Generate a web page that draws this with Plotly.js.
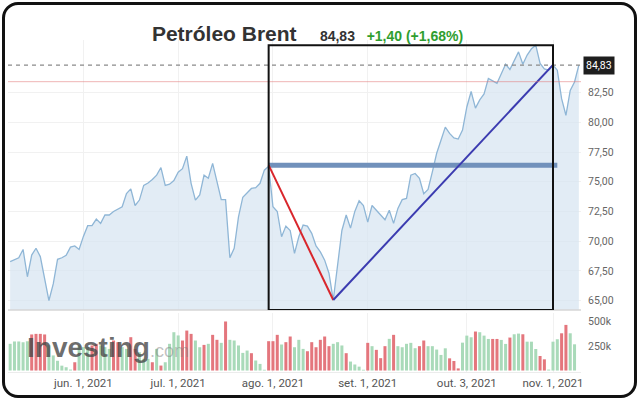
<!DOCTYPE html>
<html>
<head>
<meta charset="utf-8">
<script src="https://cdn.plot.ly/plotly-3.0.1.min.js"></script>
<style>
  html, body { margin: 0; padding: 0; background: #fff; }
  #wrap { position: relative; width: 640px; height: 407px; overflow: hidden; }
  #chart { position: absolute; left: 0; top: 0; width: 640px; height: 407px; }
  #frame {
    position: absolute; left: 2px; top: 2px; width: 635px; height: 396px;
    box-sizing: border-box; border: 3px solid #111; border-radius: 16px;
    pointer-events: none;
  }
</style>
</head>
<body>
<div id="wrap">
  <div id="chart"></div>
  <div id="frame"></div>
</div>
<script>
// Brent daily closes, one per trading day from 2021-05-07
const closes = [
    68.27, 68.47, 68.6, 69.3, 67.0, 68.83, 69.4, 68.7, 66.7, 65.0,
    66.4, 68.47, 68.6, 68.8, 69.5, 69.6, 69.3, 70.4, 71.3, 71.3,
    71.86, 71.5, 72.2, 72.2, 72.5, 72.7, 72.9, 74.0, 74.4, 73.0,
    73.46, 74.7, 74.9, 75.2, 75.56, 76.2, 74.7, 74.8, 75.1, 75.8,
    76.1, 77.16, 74.87, 73.46, 73.9, 75.56, 75.3, 76.55, 75.0, 73.5,
    73.5, 68.6, 69.4, 72.05, 73.7, 74.07, 74.44, 74.5, 74.87, 75.98,
    76.3, 72.9, 72.5, 70.37, 71.27, 70.9, 68.97, 70.37, 71.36, 71.27,
    70.66, 69.6, 69.1, 68.4, 67.3, 65.04, 67.85, 70.9, 72.2, 71.1,
    72.5, 73.4, 73.0, 71.6, 73.0, 72.6, 72.2, 71.8, 72.6, 71.5,
    72.76, 73.5, 73.6, 75.56, 75.7, 75.3, 74.0, 74.36, 75.84, 77.4,
    78.5, 79.6, 79.07, 78.7, 78.6, 79.35, 81.3, 82.6, 81.2, 81.9,
    82.4, 83.7, 83.5, 83.3, 84.1, 84.9, 84.46, 85.2, 85.94, 84.9,
    85.67, 86.2, 86.5, 84.97, 84.5, 84.4, 84.83, 84.4, 82.0, 80.6,
    82.7, 83.4, 84.83
];

// volume in thousands, and bar colour: G = up day, R = down day
const volumeK = [
    274, 298, 298, 290, 300, 370, 376, 376, 370, 260,
    155, 100, 50, 34, 10, 85, 257, 240, 240, 257,
    274, 257, 240, 222, 308, 290, 240, 222, 342, 222,
    188, 120, 120, 85, 222, 51, 85, 274, 393, 360,
    308, 410, 376, 308, 239, 263, 274, 366, 315, 284,
    503, 315, 308, 257, 181, 205, 178, 103, 68, 8,
    301, 301, 366, 267, 291, 349, 239, 315, 222, 198,
    291, 239, 315, 349, 250, 274, 291, 257, 178, 92,
    62, 40, 8, 284, 250, 212, 127, 250, 325, 366,
    250, 239, 274, 284, 229, 250, 308, 250, 250, 215,
    160, 228, 125, 98, 22, 286, 358, 341, 400, 393,
    358, 324, 324, 324, 314, 273, 338, 372, 379, 372,
    296, 296, 221, 149, 115, 10, 296, 321, 382, 468,
    382, 269, null
];
const volumeDir =
    'GGGGGRRRRG' + 'GGGGGRGGGR' + 'RGGGRRGGRR' + 'GGGRGRGGGG' + 'RRRGGRGRRG' +
    'RGGGGGRGGG' + 'RRRGRRGGGR' + 'RRRRRGGGRG' + 'GGGRGRRRGR' + 'GGGGGRRGGG' +
    'GGRRRGGGRG' + 'GGRRGGRGGR' + 'GGGRRGGGRR' + 'GGG';

const lastPrice = 84.83;
const prevClose = 83.43;
const priceRange = [64.2, 86.94];
const priceTicks = [65, 67.5, 70, 72.5, 75, 77.5, 80, 82.5];

const tickDates = ['2021-06-01', '2021-07-01', '2021-08-02', '2021-09-01', '2021-10-04', '2021-11-01'];
const tickLabels = ['jun. 1, 2021', 'jul. 1, 2021', 'ago. 1, 2021', 'set. 1, 2021', 'out. 3, 2021', 'nov. 1, 2021'];

// hand drawn markup on the chart
const boxDates = ['2021-07-30', '2021-11-01'];
const boxTop = 86.5;
const levelLine = { x: ['2021-07-30', '2021-11-02'], y: [76.4, 76.4] };
const fallLine = { x: ['2021-07-30', '2021-08-20'], y: [76.4, 65.04] };
const riseLine = { x: ['2021-08-20', '2021-11-01'], y: [65.04, 84.85] };

function tradingDays(from, to) {
    const out = [];
    const d = new Date(from + 'T00:00:00Z');
    const end = new Date(to + 'T00:00:00Z');
    while (d <= end) {
        const wd = d.getUTCDay();
        if (wd !== 0 && wd !== 6) out.push(d.toISOString().slice(0, 10));
        d.setUTCDate(d.getUTCDate() + 1);
    }
    return out;
}

const dates = tradingDays('2021-05-07', '2021-11-09');
const arial = '"Liberation Sans", Arial, sans-serif';

const traces = [
    {
        x: dates,
        y: closes,
        type: 'scatter',
        mode: 'lines',
        fill: 'tozeroy',
        fillcolor: 'rgba(214,228,241,0.7)',
        line: { color: '#8fb6d6', width: 1.3 },
        hoverinfo: 'skip'
    },
    {
        x: dates,
        y: volumeK.map(v => v === null ? null : v * 1000),
        type: 'bar',
        yaxis: 'y2',
        marker: {
            color: volumeK.map((v, i) => volumeDir[i] === 'R' ? '#e4767d' : '#a9dab9')
        },
        hoverinfo: 'skip'
    },
    {
        x: levelLine.x,
        y: levelLine.y,
        type: 'scatter',
        mode: 'lines',
        line: { color: '#7191bb', width: 5 },
        hoverinfo: 'skip'
    },
    {
        x: fallLine.x,
        y: fallLine.y,
        type: 'scatter',
        mode: 'lines',
        line: { color: '#d9262c', width: 2 },
        hoverinfo: 'skip'
    },
    {
        x: riseLine.x,
        y: riseLine.y,
        type: 'scatter',
        mode: 'lines',
        line: { color: '#3b3bb0', width: 2 },
        hoverinfo: 'skip'
    }
];

const layout = {
    width: 640,
    height: 407,
    margin: { l: 8, r: 59, t: 40, b: 35 },
    paper_bgcolor: '#fff',
    plot_bgcolor: '#fff',
    separators: ',.',
    showlegend: false,
    bargap: 0.3,
    font: { family: 'Roboto, Arial, sans-serif', size: 11, color: '#555' },
    title: {
        text: '<b>Petróleo Brent&nbsp;&nbsp;&nbsp;&nbsp;<span style="font-size:14px">84,83</span>' +
              '<span style="font-size:14px">&nbsp;&nbsp;&nbsp;</span>' +
              '<span style="font-size:14px;fill:#2f9e2f">+1,40 (+1,68%)</span></b>',
        x: 0.4805,
        xref: 'container',
        xanchor: 'center',
        y: 0.918,
        yref: 'container',
        yanchor: 'middle',
        font: { family: arial, size: 21, color: '#333' }
    },
    xaxis: {
        type: 'category',
        range: [-0.5, dates.length - 0.5],
        anchor: 'y2',
        tickmode: 'array',
        tickvals: tickDates,
        ticktext: tickLabels,
        ticks: '',
        showgrid: true,
        gridcolor: '#f1f1f1',
        zeroline: false,
        showline: true,
        linecolor: '#ececec',
        tickfont: { size: 11.5, color: '#555' },
        fixedrange: true
    },
    yaxis: {
        domain: [0.1867, 1],
        range: priceRange,
        side: 'right',
        tickmode: 'array',
        tickvals: priceTicks,
        tickformat: '.2f',
        ticks: '',
        ticklabelstandoff: 6,
        showgrid: true,
        gridcolor: '#f1f1f1',
        zeroline: false,
        tickfont: { size: 10.5, color: '#666' },
        fixedrange: true
    },
    yaxis2: {
        domain: [0, 0.1777],
        range: [-15000, 590000],
        side: 'right',
        tickmode: 'array',
        tickvals: [250000, 500000],
        ticktext: ['250k', '500k'],
        ticks: '',
        ticklabelstandoff: 6,
        showgrid: false,
        zeroline: false,
        tickfont: { size: 10.5, color: '#666' },
        fixedrange: true
    },
    shapes: [
        // previous close
        {
            type: 'line', xref: 'paper', x0: 0, x1: 1, yref: 'y', y0: prevClose, y1: prevClose,
            line: { color: 'rgba(226,120,120,0.55)', width: 1 }
        },
        // last price
        {
            type: 'line', xref: 'paper', x0: 0, x1: 1, yref: 'y', y0: lastPrice, y1: lastPrice,
            line: { color: '#8a8a8a', width: 1.2, dash: '4px,4px' }
        },
        // panel separator
        {
            type: 'line', xref: 'paper', x0: 0, x1: 1, yref: 'y domain', y0: 0, y1: 0,
            line: { color: '#d6d6d6', width: 1.5 }
        },
        // box around the move
        {
            type: 'rect', xref: 'x', yref: 'y',
            x0: boxDates[0], x1: boxDates[1], y0: priceRange[0], y1: boxTop,
            line: { color: '#111', width: 2 }, layer: 'above'
        }
    ],
    annotations: [
        {
            xref: 'paper', x: 1, xanchor: 'left', xshift: 2,
            yref: 'y', y: lastPrice, yanchor: 'middle',
            text: '84,83', showarrow: false,
            bgcolor: '#1e1e1e', borderpad: 2,
            font: { size: 10.5, color: '#fff' }
        },
        {
            xref: 'paper', x: 0.029, xanchor: 'left',
            yref: 'paper', y: 0.075, yanchor: 'middle',
            text: '<b>Investing</b><span style="font-size:18px;fill:rgba(125,125,125,0.6)">.com</span>',
            showarrow: false,
            font: { family: arial, size: 28, color: 'rgba(70,70,70,0.78)' }
        }
    ]
};

const config = { displayModeBar: false, staticPlot: true };

Plotly.newPlot('chart', traces, layout, config);
</script>
</body>
</html>
